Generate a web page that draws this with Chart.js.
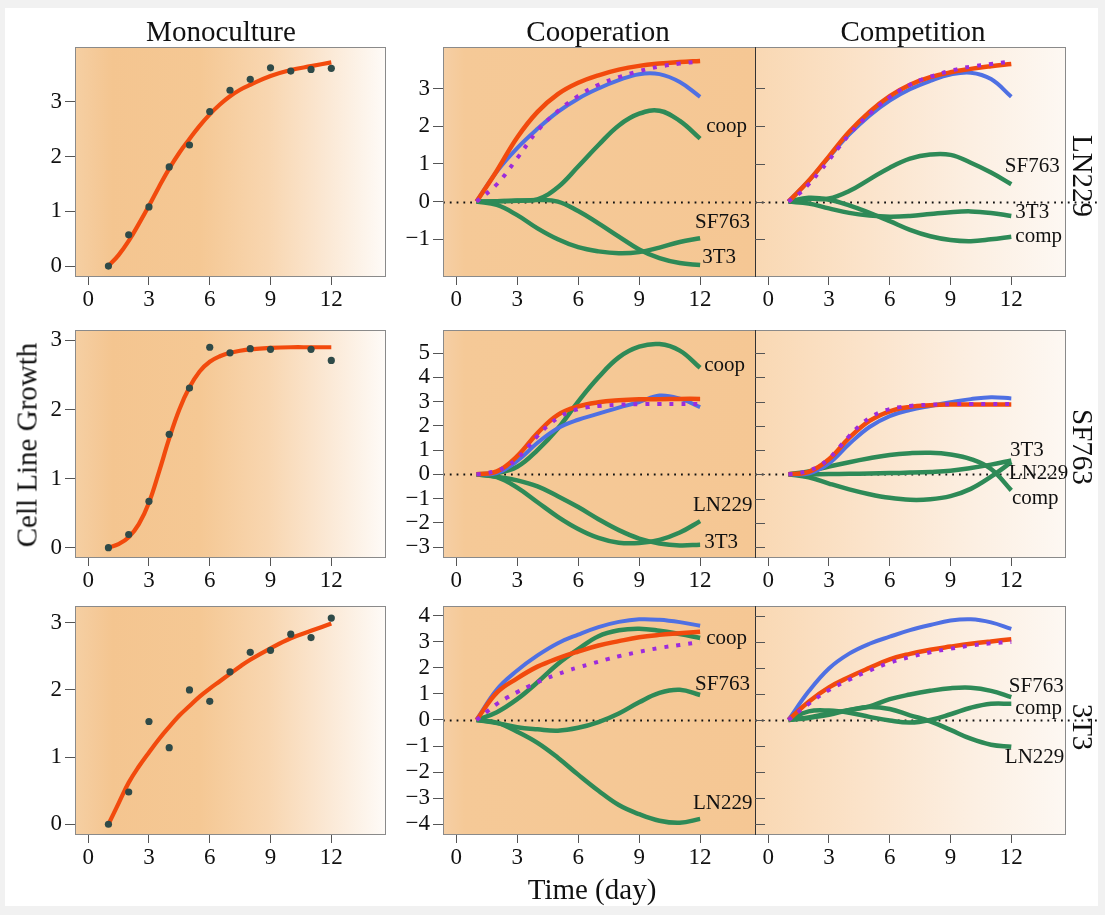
<!DOCTYPE html>
<html lang="en">
<head>
  <meta charset="UTF-8">
  <title>Cell Line Growth</title>
  <script src="https://cdn.jsdelivr.net/npm/chart.js"></script>
  <style>
    body {
      margin: 0;
      width: 1105px;
      height: 915px;
      overflow: hidden;
      position: relative;
      background: #f1f1f1;
      font-family: 'Liberation Serif', 'Times New Roman', serif;
      color: #111;
    }
    .sheet {
      position: absolute;
      left: 5px;
      top: 8px;
      width: 1093px;
      height: 898px;
      background: #fff;
    }
    canvas {
      position: absolute;
    }
    .txt {
      position: absolute;
      z-index: 5;
      font-size: 29px;
      line-height: 29px;
      white-space: nowrap;
      transform: translate(-50%, -50%);
    }
    .down { transform: translate(-50%, -50%) rotate(90deg); }
    .up { transform: translate(-50%, -50%) rotate(-90deg); }
  </style>
</head>
<body>
  <div class="sheet"></div>

  <div class="txt" style="left:221px; top:31px;">Monoculture</div>
  <div class="txt" style="left:598px; top:31px;">Cooperation</div>
  <div class="txt" style="left:913px; top:31px;">Competition</div>
  <div class="txt up" style="left:27px; top:445px;">Cell Line Growth</div>
  <div class="txt" style="left:592px; top:889px;">Time (day)</div>
  <div class="txt down" style="left:1082px; top:176px;">LN229</div>
  <div class="txt down" style="left:1082px; top:447px;">SF763</div>
  <div class="txt down" style="left:1082px; top:727px;">3T3</div>

  <script>
    // ---- data ----
    const days = [1, 2, 3, 4, 5, 6, 7, 8, 9, 10, 11, 12];
    const fitDays = [1, 1.5, 2, 2.5, 3, 3.5, 4, 4.5, 5, 5.5, 6, 6.5, 7, 7.5, 8, 9, 10, 11, 12];
    const xTicks = [0, 3, 6, 9, 12];
    const monoTicks = [0, 1, 2, 3];
    const pairTicks1 = [-1, 0, 1, 2, 3];
    const pairTicks2 = [-3, -2, -1, 0, 1, 2, 3, 4, 5];
    const pairTicks3 = [-4, -3, -2, -1, 0, 1, 2, 3, 4];

    // monoculture measurements
    const monoLN229 = [0, 0.57, 1.08, 1.81, 2.21, 2.82, 3.21, 3.41, 3.62, 3.56, 3.59, 3.61];
    const monoSF763 = [0, 0.19, 0.67, 1.64, 2.31, 2.90, 2.82, 2.88, 2.87, null, 2.87, 2.71];
    const mono3T3 = [0, 0.48, 1.53, 1.14, 2.00, 1.83, 2.27, 2.56, 2.59, 2.83, 2.78, 3.07];

    // monoculture fits (on fitDays)
    const fitLN229 = [0, 0.2, 0.46, 0.77, 1.1, 1.45, 1.78, 2.07, 2.32, 2.56, 2.77, 2.95, 3.1, 3.22, 3.31, 3.47, 3.58, 3.65, 3.72];
    const fitSF763 = [0, 0.05, 0.15, 0.34, 0.65, 1.1, 1.58, 2.0, 2.32, 2.55, 2.69, 2.77, 2.82, 2.85, 2.87, 2.89, 2.9, 2.9, 2.9];
    const fit3T3 = [0, 0.31, 0.62, 0.86, 1.07, 1.27, 1.45, 1.62, 1.76, 1.9, 2.02, 2.13, 2.24, 2.35, 2.45, 2.62, 2.77, 2.88, 2.99];

    // LN229 row
    const coopRed1 = [0, 0.82, 1.7, 2.38, 2.85, 3.15, 3.35, 3.5, 3.6, 3.66, 3.7, 3.73];
    const coopBlue1 = [0, 0.8, 1.42, 1.93, 2.38, 2.73, 3.0, 3.22, 3.38, 3.38, 3.17, 2.78];
    const coopPurple1 = [0, 0.46, 1.15, 1.88, 2.4, 2.8, 3.1, 3.3, 3.46, 3.58, 3.66, 3.72];
    const coopGreen1Coop = [0, 0.01, 0.03, 0.06, 0.38, 0.93, 1.5, 2.02, 2.33, 2.41, 2.14, 1.67];
    const coopGreen1SF763 = [0, -0.09, -0.36, -0.71, -1.0, -1.21, -1.32, -1.37, -1.34, -1.22, -1.07, -0.97];
    const coopGreen13T3 = [0, 0.01, 0.02, 0.04, 0.0, -0.25, -0.58, -0.93, -1.27, -1.5, -1.63, -1.68];
    const compRed1 = [0, 0.55, 1.2, 1.85, 2.38, 2.8, 3.1, 3.3, 3.43, 3.52, 3.59, 3.65];
    const compBlue1 = [0, 0.55, 1.18, 1.78, 2.28, 2.68, 2.98, 3.2, 3.37, 3.42, 3.25, 2.78];
    const compGreen1SF763 = [0, 0.07, 0.08, 0.28, 0.59, 0.9, 1.14, 1.25, 1.24, 1.03, 0.77, 0.46];
    const compGreen13T3 = [0, -0.05, -0.18, -0.3, -0.37, -0.4, -0.38, -0.33, -0.28, -0.26, -0.3, -0.38];
    const compGreen1Comp = [0, 0.1, 0.05, -0.1, -0.3, -0.52, -0.75, -0.92, -1.02, -1.05, -1.0, -0.93];

    // SF763 row
    const coopRed2 = [0, 0.12, 0.75, 1.7, 2.45, 2.8, 2.97, 3.05, 3.09, 3.1, 3.11, 3.11];
    const coopBlue2 = [0, 0.05, 0.55, 1.3, 1.9, 2.25, 2.5, 2.75, 2.98, 3.25, 3.12, 2.77];
    const coopGreen2Coop = [0, 0.05, 0.31, 1.0, 1.89, 3.0, 4.0, 4.82, 5.26, 5.37, 5.1, 4.39];
    const coopGreen2LN229 = [0, -0.12, -0.55, -1.15, -1.75, -2.25, -2.62, -2.82, -2.83, -2.7, -2.4, -1.93];
    const coopGreen23T3 = [0, -0.1, -0.25, -0.5, -0.9, -1.35, -1.85, -2.3, -2.65, -2.85, -2.93, -2.9];
    const compRed2 = [0, 0.1, 0.62, 1.5, 2.2, 2.6, 2.78, 2.85, 2.88, 2.88, 2.88, 2.88];
    const compBlue2 = [0, 0.03, 0.45, 1.25, 1.95, 2.4, 2.65, 2.82, 2.97, 3.1, 3.18, 3.13];
    const compGreen23T3 = [0, 0.12, 0.32, 0.5, 0.66, 0.8, 0.87, 0.89, 0.82, 0.63, 0.22, -0.66];
    const compGreen2LN229 = [0, 0, 0.01, 0.02, 0.03, 0.05, 0.07, 0.1, 0.15, 0.26, 0.4, 0.57];
    const compGreen2Comp = [0, -0.12, -0.38, -0.62, -0.82, -0.97, -1.05, -1.03, -0.9, -0.6, -0.1, 0.5];

    // 3T3 row
    const coopRed3 = [0, 1.05, 1.6, 2.05, 2.37, 2.63, 2.86, 3.03, 3.18, 3.27, 3.33, 3.39];
    const coopBlue3 = [0, 1.17, 1.9, 2.48, 2.95, 3.28, 3.57, 3.77, 3.87, 3.85, 3.76, 3.62];
    const coopGreen3Coop = [0, 0.3, 0.8, 1.45, 2.15, 2.72, 3.22, 3.45, 3.51, 3.43, 3.3, 3.15];
    const coopGreen3SF763 = [0, -0.12, -0.28, -0.36, -0.41, -0.3, -0.08, 0.25, 0.68, 1.04, 1.16, 0.96];
    const coopGreen3LN229 = [0, -0.1, -0.45, -0.88, -1.45, -2.1, -2.72, -3.27, -3.62, -3.87, -3.95, -3.8];
    const compRed3 = [0, 0.7, 1.25, 1.65, 2.0, 2.33, 2.54, 2.7, 2.82, 2.93, 3.02, 3.1];
    const compBlue3 = [0, 1.1, 1.98, 2.55, 2.93, 3.2, 3.45, 3.65, 3.82, 3.87, 3.75, 3.5];
    const compPurple3 = [0, 0.62, 1.15, 1.55, 1.9, 2.2, 2.42, 2.6, 2.74, 2.86, 2.95, 3.0];
    const compGreen3SF763 = [0, 0.1, 0.25, 0.38, 0.52, 0.8, 0.98, 1.12, 1.22, 1.24, 1.12, 0.88];
    const compGreen3Comp = [0, 0.33, 0.36, 0.28, 0.12, -0.02, -0.1, 0.0, 0.22, 0.47, 0.62, 0.62];
    const compGreen3LN229 = [0, 0.08, 0.2, 0.38, 0.5, 0.42, 0.18, -0.05, -0.38, -0.72, -0.95, -1.03];

    // curve labels: [text, day, value]
    const labelsCoop1 = [['coop', 12.3, 1.98], ['SF763', 11.75, -0.55], ['3T3', 12.1, -1.49]];
    const labelsComp1 = [['SF763', 11.68, 0.93], ['3T3', 12.2, -0.3], ['comp', 12.2, -0.93]];
    const labelsCoop2 = [['coop', 12.2, 4.47], ['LN229', 11.65, -1.27], ['3T3', 12.2, -2.79]];
    const labelsComp2 = [['3T3', 11.93, 0.98], ['LN229', 11.88, 0.04], ['comp', 12.03, -0.98]];
    const labelsCoop3 = [['coop', 12.3, 3.14], ['SF763', 11.75, 1.38], ['LN229', 11.65, -3.2]];
    const labelsComp3 = [['SF763', 11.88, 1.27], ['comp', 12.2, 0.46], ['LN229', 11.68, -1.46]];

    // ---- styles ----
    const RED = '#f24a0d';
    const BLUE = '#4f70e3';
    const GREEN = '#2e8a57';
    const PURPLE = '#9d2bdc';
    const DOT = '#2f4a48';
    const SERIF = "'Liberation Serif', 'Times New Roman', serif";
    const X_MIN = -0.65, X_MAX = 14.7;

    const bgMono = [[0, '#f5cfa3'], [0.12, '#f4c590'], [0.4, '#f5c894'], [0.62, '#f8d6b0'], [0.82, '#fbe9d6'], [1, '#fefbf8']];
    const bgCoop = [[0, '#f5cfa5'], [0.07, '#f5c997'], [1, '#f5c794']];
    const bgComp = [[0, '#f9d8b3'], [0.35, '#fbe3ca'], [0.7, '#fcefe2'], [1, '#fdf8f3']];

    const decor = {
      id: 'decor',
      beforeDraw(chart, args, o) {
        const { ctx, chartArea: a } = chart;
        const g = ctx.createLinearGradient(a.left, 0, a.right, 0);
        o.bg.forEach(s => g.addColorStop(s[0], s[1]));
        ctx.save();
        ctx.fillStyle = g;
        ctx.fillRect(a.left, a.top, a.right - a.left, a.bottom - a.top);
        ctx.restore();
      },
      beforeDatasetsDraw(chart, args, o) {
        if (!o.zero) return;
        const { ctx, chartArea: a } = chart;
        const py = Math.round(chart.scales.y.getPixelForValue(0)) + 0.5;
        ctx.save();
        ctx.strokeStyle = '#111';
        ctx.lineWidth = 1.8;
        ctx.setLineDash([1.8, 5]);
        ctx.beginPath();
        ctx.moveTo(a.left, py);
        ctx.lineTo(a.right + (o.zeroExtra || 0), py);
        ctx.stroke();
        ctx.restore();
      },
      afterDraw(chart, args, o) {
        const { ctx, chartArea: a } = chart;
        const y = chart.scales.y, x = chart.scales.x;
        ctx.save();
        ctx.lineWidth = 1;
        ctx.strokeStyle = '#8a8a8a';
        ctx.beginPath();
        ctx.moveTo(a.left, a.top + 0.5);
        ctx.lineTo(a.right, a.top + 0.5);
        ctx.moveTo(a.left, a.bottom - 0.5);
        ctx.lineTo(a.right, a.bottom - 0.5);
        if (o.side !== 'coop') {
          ctx.moveTo(a.right - 0.5, a.top);
          ctx.lineTo(a.right - 0.5, a.bottom);
        }
        if (o.side !== 'comp') {
          ctx.moveTo(a.left + 0.5, a.top);
          ctx.lineTo(a.left + 0.5, a.bottom);
        }
        ctx.stroke();
        if (o.side === 'comp') {
          ctx.strokeStyle = '#333';
          ctx.beginPath();
          ctx.moveTo(a.left + 0.5, a.top);
          ctx.lineTo(a.left + 0.5, a.bottom);
          ctx.stroke();
          ctx.strokeStyle = '#555';
          ctx.beginPath();
          y.ticks.forEach(t => {
            const py = Math.round(y.getPixelForValue(t.value)) + 0.5;
            ctx.moveTo(a.left, py);
            ctx.lineTo(a.left + 10, py);
          });
          ctx.stroke();
        }
        if (o.labels) {
          ctx.fillStyle = '#111';
          ctx.font = '21px ' + SERIF;
          ctx.textAlign = 'left';
          ctx.textBaseline = 'middle';
          o.labels.forEach(l => ctx.fillText(l[0], x.getPixelForValue(l[1]), y.getPixelForValue(l[2])));
        }
        ctx.restore();
      }
    };

    function line(xs, ys, color, width, dash) {
      return {
        data: xs.map((d, i) => ({ x: d, y: ys[i] })),
        borderColor: color,
        borderWidth: width,
        borderDash: dash || [],
        pointRadius: 0,
        tension: 0.4,
        fill: false
      };
    }

    function dots(xs, ys) {
      return {
        data: xs.map((d, i) => ({ x: d, y: ys[i] })),
        showLine: false,
        pointRadius: 3.6,
        pointBackgroundColor: DOT,
        pointBorderWidth: 0
      };
    }

    function makePanel(box, yRange, yTicks, datasets, deco) {
      const cv = document.createElement('canvas');
      cv.width = box.w;
      cv.height = box.h;
      cv.style.left = box.left + 'px';
      cv.style.top = box.top + 'px';
      document.body.appendChild(cv);
      const showY = deco.side !== 'comp';
      new Chart(cv.getContext('2d'), {
        type: 'line',
        data: { datasets: datasets },
        options: {
          responsive: false,
          animation: false,
          events: [],
          layout: { padding: { top: 20, right: box.padRight, left: 0, bottom: 0 } },
          plugins: { legend: { display: false }, tooltip: { enabled: false }, decor: deco },
          scales: {
            x: {
              type: 'linear', min: X_MIN, max: X_MAX,
              afterBuildTicks: s => { s.ticks = xTicks.map(v => ({ value: v })); },
              afterFit: s => { s.height = 40; },
              grid: { drawOnChartArea: false, drawTicks: true, tickLength: 8, color: '#555' },
              border: { display: false },
              ticks: { font: { family: SERIF, size: 23 }, color: '#111', padding: 1, maxRotation: 0, autoSkip: false }
            },
            y: {
              type: 'linear', min: yRange[0], max: yRange[1],
              afterBuildTicks: s => { s.ticks = yTicks.map(v => ({ value: v })); },
              afterFit: s => { s.width = box.yW; },
              grid: { drawOnChartArea: false, drawTicks: showY, tickLength: 10, color: '#555' },
              border: { display: false },
              ticks: {
                display: showY,
                font: { family: SERIF, size: 23 },
                color: '#111',
                padding: 3,
                autoSkip: false,
                callback: v => v < 0 ? '\u2212' + Math.abs(v) : String(v)
              }
            }
          }
        },
        plugins: [decor]
      });
    }

    const rows = [[47, 277], [330, 558], [606, 835]];
    const monoRanges = [[-0.2, 4.0], [-0.15, 3.15], [-0.16, 3.25]];
    const pairRanges = [[-2.0, 4.1], [-3.45, 5.95], [-4.42, 4.38]];
    const pairTicks = [pairTicks1, pairTicks2, pairTicks3];
    const zeroExtra = [34, 0, 34];

    const monoSets = [
      [dots(days, monoLN229), line(fitDays, fitLN229, RED, 4.2)],
      [dots(days, monoSF763), line(fitDays, fitSF763, RED, 4.2)],
      [dots(days, mono3T3), line(fitDays, fit3T3, RED, 4.2)]
    ];
    const dotted = [4, 8];
    const coopSets = [
      [line(days, coopPurple1, PURPLE, 4, dotted), line(days, coopRed1, RED, 4.5), line(days, coopBlue1, BLUE, 4),
       line(days, coopGreen1Coop, GREEN, 4.5), line(days, coopGreen1SF763, GREEN, 4.5), line(days, coopGreen13T3, GREEN, 4.5)],
      [line(fitDays, fitSF763, PURPLE, 4, dotted), line(days, coopRed2, RED, 4.5), line(days, coopBlue2, BLUE, 4),
       line(days, coopGreen2Coop, GREEN, 4.5), line(days, coopGreen2LN229, GREEN, 4.5), line(days, coopGreen23T3, GREEN, 4.5)],
      [line(fitDays, fit3T3, PURPLE, 4, dotted), line(days, coopRed3, RED, 4.5), line(days, coopBlue3, BLUE, 4),
       line(days, coopGreen3Coop, GREEN, 4.5), line(days, coopGreen3SF763, GREEN, 4.5), line(days, coopGreen3LN229, GREEN, 4.5)]
    ];
    const compSets = [
      [line(fitDays, fitLN229, PURPLE, 4, dotted), line(days, compRed1, RED, 4.5), line(days, compBlue1, BLUE, 4),
       line(days, compGreen1SF763, GREEN, 4.5), line(days, compGreen13T3, GREEN, 4.5), line(days, compGreen1Comp, GREEN, 4.5)],
      [line(fitDays, fitSF763, PURPLE, 4, dotted), line(days, compRed2, RED, 4.5), line(days, compBlue2, BLUE, 4),
       line(days, compGreen23T3, GREEN, 4.5), line(days, compGreen2LN229, GREEN, 4.5), line(days, compGreen2Comp, GREEN, 4.5)],
      [line(days, compPurple3, PURPLE, 4, dotted), line(days, compRed3, RED, 4.5), line(days, compBlue3, BLUE, 4),
       line(days, compGreen3SF763, GREEN, 4.5), line(days, compGreen3Comp, GREEN, 4.5), line(days, compGreen3LN229, GREEN, 4.5)]
    ];
    const coopLabels = [labelsCoop1, labelsCoop2, labelsCoop3];
    const compLabels = [labelsComp1, labelsComp2, labelsComp3];

    rows.forEach((r, i) => {
      const top = r[0] - 20;
      const h = 20 + (r[1] - r[0]) + 40;
      makePanel({ left: 0, top: top, w: 396, h: h, yW: 75, padRight: 10 },
        monoRanges[i], monoTicks, monoSets[i], { bg: bgMono, side: 'mono' });
      makePanel({ left: 383, top: top, w: 372, h: h, yW: 60, padRight: 0 },
        pairRanges[i], pairTicks[i], coopSets[i], { bg: bgCoop, side: 'coop', zero: true, labels: coopLabels[i] });
      makePanel({ left: 755, top: top, w: 350, h: h, yW: 0, padRight: 39 },
        pairRanges[i], pairTicks[i], compSets[i], { bg: bgComp, side: 'comp', zero: true, zeroExtra: zeroExtra[i], labels: compLabels[i] });
    });
  </script>
</body>
</html>
